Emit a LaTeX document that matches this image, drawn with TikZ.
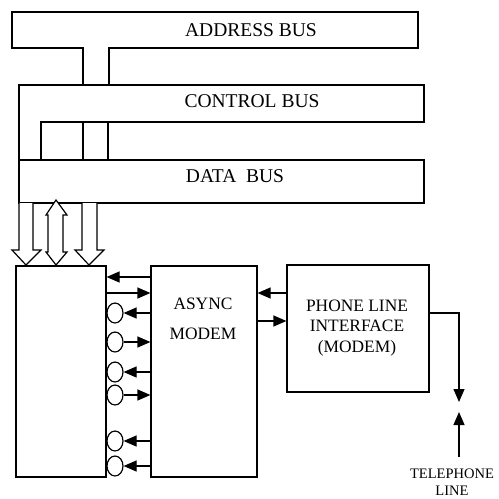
\documentclass[tikz,border=0pt]{standalone}
\usepackage{fontspec}
\setmainfont{Liberation Serif}
\usetikzlibrary{arrows.meta,shapes.geometric}
\begin{document}
\begin{tikzpicture}[x=1pt,y=-1pt,line width=1.2pt,
  tri/.style={-{Triangle[length=13pt,width=11pt]}},
  blockbox/.style={draw,rectangle,inner sep=0pt},
  busfont/.style={font=\fontsize{19.5}{22}\selectfont},
  boxfont/.style={font=\fontsize{17.4}{20.5}\selectfont,align=center},
  ring/.style={draw,ellipse,minimum width=16pt,minimum height=20pt,inner sep=0pt},
  hollow/.style={draw,fill=white,line join=miter}]
\useasboundingbox (0,0) rectangle (499,499);
% address bus
\draw (109,85) -- (109,48) -- (418,48) -- (418,12) -- (12,12) -- (12,48) -- (83,48) -- (83,85);
\node[busfont] (ab) at (251,30) {ADDRESS BUS};
% control bus
\draw (41,160) -- (41,122) -- (424,122) -- (424,85) -- (19,85) -- (19,160);
\node[busfont] (cb) at (252,101) {CONTROL BUS};
\draw (83,122) -- (83,160);
\draw (108,122) -- (108,160);
% data bus
\draw (19,160) rectangle (424,203);
\node[busfont] (db) at (235,176) {DATA\ \ BUS};
% blocks
\node[blockbox,minimum width=90pt,minimum height=211pt] (lb) at (61,371.5) {};
\node[blockbox,minimum width=106pt,minimum height=211pt] (am) at (204,371.5) {};
\node[boxfont,font=\fontsize{17.4}{30}\selectfont] (amt) at (203,319) {ASYNC\\MODEM};
\node[blockbox,minimum width=142pt,minimum height=127pt] (pl) at (358,328.5) {};
\node[boxfont] (plt) at (357,328) {PHONE LINE\\INTERFACE\\(MODEM)};
% hollow arrows from data bus
\draw[hollow] (19,203) -- (19,250) -- (12,250) -- (26,265) -- (41,250) -- (33,250) -- (33,203);
\draw[hollow] (48,215) -- (48,252) -- (46,252) -- (56,265) -- (67,252) -- (63,252) -- (63,215) -- (67,215) -- (56,200) -- (46,215) -- cycle;
\draw[hollow] (82,203) -- (82,250) -- (75,250) -- (89,265) -- (104,250) -- (97,250) -- (97,203);
% signals between left block and async modem
\draw[tri] (am.west |- 0,277) -- (lb.east |- 0,277);
\draw[tri] (lb.east |- 0,293) -- (am.west |- 0,293);
\node[ring] (c1) at (115,313) {};
\node[ring] (c2) at (115,342) {};
\node[ring] (c3) at (115,372) {};
\node[ring] (c4) at (115,395) {};
\node[ring] (c5) at (115,441) {};
\node[ring] (c6) at (115,466) {};
\draw[tri] (am.west |- c1) -- (c1.east);
\draw[tri] (c2.east) -- (am.west |- c2);
\draw[tri] ([xshift=2pt]am.west |- c3) -- (c3.east);
\draw[tri] (c4.east) -- (am.west |- c4);
\draw[tri] (am.west |- c5) -- (c5.east);
\draw[tri] (am.west |- c6) -- (c6.east);
% async modem <-> phone line interface
\draw[tri] (pl.west |- 0,293) -- (am.east |- 0,293);
\draw[tri] (am.east |- 0,321) -- (pl.west |- 0,321);
% telephone line
\coordinate (t1) at (459,402);
\coordinate (t2) at (459,412);
\coordinate (t3) at (459,457);
\draw[tri] (pl.east |- 0,313) -- (t1 |- 0,313) -- (t1);
\draw[tri] (t3) -- (t2);
\node[font=\fontsize{14.5}{17}\selectfont,align=center] (tl) at (452,482.5) {TELEPHONE\\LINE};
\end{tikzpicture}
\end{document}
